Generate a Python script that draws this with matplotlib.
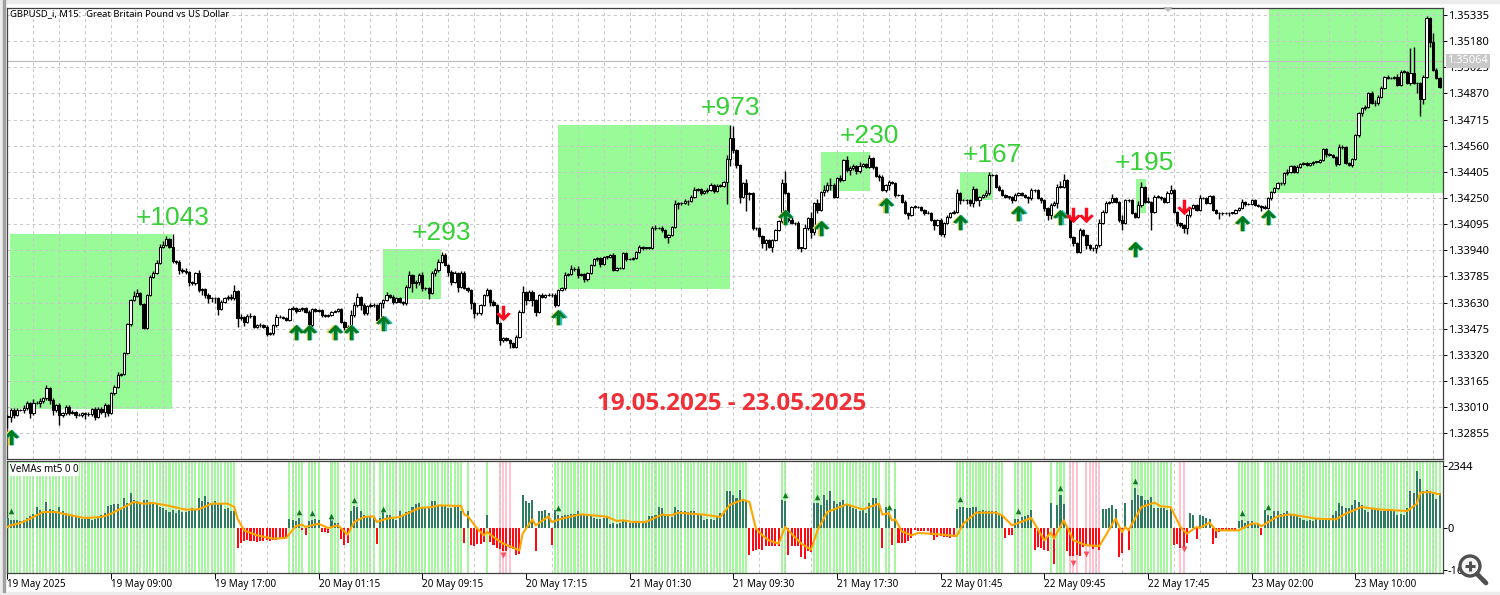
import numpy as np
import matplotlib
matplotlib.use("Agg")
import matplotlib.pyplot as plt
from matplotlib.patches import Rectangle, Circle
from matplotlib.ticker import FixedLocator, FixedFormatter

# prices are points above 1.30000, read bar by bar (bars are 15 min apart)
closes = [
    2953,2992,2963,2992,2992,3002,3032,2973,3036,3032,3048,3062,3121,3052,2992,3022,2963,2973,3012,2977,
    2983,2963,2963,2973,2969,2967,2996,2953,2998,2983,3022,2973,3091,3131,3200,3204,3329,3501,3645,3671,
    3684,3621,3481,3675,3783,3803,3862,3961,3971,4005,3961,3878,3872,3823,3817,3813,3754,3744,3803,3704,
    3708,3675,3655,3655,3655,3591,3635,3655,3665,3655,3698,3536,3546,3516,3550,3550,3487,3497,3497,3487,
    3443,3447,3497,3542,3542,3536,3526,3590,3596,3582,3590,3596,3576,3497,3590,3582,3586,3556,3550,3556,
    3576,3582,3590,3517,3483,3477,3556,3615,3665,3615,3566,3610,3615,3615,3526,3625,3645,3675,3665,3635,
    3655,3635,3625,3724,3793,3744,3754,3793,3714,3714,3685,3803,3823,3872,3912,3853,3813,3754,3803,3724,
    3807,3714,3704,3625,3566,3566,3615,3675,3704,3635,3615,3507,3408,3418,3408,3388,3368,3428,3576,3695,
    3645,3695,3645,3576,3675,3665,3675,3675,3675,3615,3704,3714,3793,3797,3829,3829,3793,3797,3769,3803,
    3852,3886,3892,3856,3902,3902,3912,3823,3833,3833,3922,3886,3888,3892,3927,3961,3955,3955,3955,4070,
    4070,4070,4060,4020,4030,4080,4212,4218,4218,4232,4232,4254,4297,4303,4277,4291,4297,4327,4291,4323,
    4323,4343,4479,4604,4534,4445,4258,4337,4271,4277,4070,4070,4026,3981,4001,3961,4001,4060,4113,4337,
    4277,4119,4099,4099,3955,3955,4070,4129,4050,4218,4178,4287,4297,4327,4327,4258,4366,4356,4475,4416,
    4426,4441,4410,4441,4449,4435,4489,4435,4382,4376,4297,4327,4343,4337,4267,4267,4228,4159,4149,4198,
    4198,4194,4178,4159,4163,4119,4090,4119,4034,4099,4139,4159,4169,4281,4238,4238,4238,4218,4301,4238,
    4258,4267,4277,4386,4386,4317,4297,4267,4258,4258,4238,4267,4277,4267,4258,4248,4297,4297,4248,4238,
    4188,4149,4208,4218,4316,4316,4356,4139,4020,3980,3931,4060,4030,3970,3951,3951,3970,4099,4168,4218,
    4228,4247,4228,4119,4099,4237,4237,4158,4139,4208,4316,4228,4228,4168,4257,4257,4247,4228,4277,4297,
    4168,4099,4089,4069,4148,4188,4208,4178,4247,4247,4218,4263,4178,4158,4158,4158,4158,4162,4162,4178,
    4188,4228,4212,4212,4237,4208,4204,4198,4188,4247,4287,4307,4337,4337,4396,4406,4441,4406,4435,4451,
    4455,4445,4455,4465,4465,4475,4538,4511,4505,4495,4451,4550,4554,4455,4445,4479,4623,4752,4781,4791,
    4870,4815,4811,4851,4900,4965,4959,4959,4965,4920,4999,4999,4930,4989,4930,4930,4835,4969,5315,5177,
    5009,4959,4910,
]
wick_up = [
    10,15,10,12,8,20,15,8,20,12,15,10,20,8,10,8,15,6,12,8,
    8,6,10,8,10,10,6,15,15,10,12,6,8,12,15,10,6,5,6,30,
    25,10,8,8,10,12,18,15,25,20,8,75,6,12,10,15,6,5,10,20,
    10,8,12,10,8,5,10,10,12,15,35,5,15,6,12,15,6,8,10,6,
    8,8,6,20,12,6,8,6,14,8,8,6,10,12,10,8,8,5,6,8,
    6,6,6,5,4,12,30,20,22,6,12,8,14,10,6,8,6,15,8,10,
    8,6,6,10,25,6,8,14,15,6,6,15,12,14,18,10,8,12,14,6,
    10,8,10,6,6,6,8,8,12,8,10,6,6,6,6,6,8,8,8,30,
    6,10,8,8,6,10,8,10,10,14,6,8,20,8,25,10,18,8,8,6,
    8,8,10,10,6,6,6,10,6,8,8,6,6,5,6,10,5,6,5,15,
    20,6,14,6,6,6,25,8,8,10,8,14,18,8,8,6,12,12,6,10,
    10,10,25,80,70,8,6,8,25,10,6,10,6,6,6,6,6,8,6,25,
    70,8,20,6,15,6,25,6,35,10,25,6,30,15,40,10,8,22,8,25,
    12,10,6,25,8,8,18,6,6,8,10,8,14,6,10,8,6,8,6,6,
    10,4,8,6,8,6,6,6,10,6,10,6,10,25,6,6,6,8,18,8,
    6,6,20,20,6,6,8,6,5,6,6,15,6,6,6,6,10,8,6,6,
    8,6,14,12,15,35,35,6,8,6,6,10,6,6,6,6,8,25,10,12,
    6,25,6,6,30,6,6,6,8,25,30,5,25,6,8,8,6,6,15,30,
    5,6,8,6,6,6,6,8,18,6,6,6,5,5,8,6,6,5,5,8,
    6,15,6,10,6,6,5,6,8,6,6,6,8,6,6,15,6,6,8,6,
    6,6,5,5,5,5,6,8,8,8,6,18,8,6,6,6,6,6,10,8,
    10,14,14,10,14,8,12,6,8,18,8,10,6,150,158,6,6,10,14,8,
    50,10,10,
]
wick_down = [
    70,30,20,8,8,15,10,25,8,6,20,15,8,25,30,10,60,10,8,15,
    8,20,8,10,30,10,8,20,10,15,30,15,6,8,8,6,5,6,8,6,
    6,6,6,8,6,6,6,6,5,6,6,15,12,25,10,15,25,8,10,10,
    30,20,25,20,30,35,6,10,8,10,8,50,8,25,6,10,10,8,15,8,
    10,6,8,15,6,6,8,5,6,12,5,8,8,6,15,6,6,12,8,6,
    8,5,6,6,14,8,20,10,12,30,8,10,8,12,6,8,25,8,10,14,
    10,6,8,8,6,50,30,20,15,10,35,6,15,14,8,8,25,20,10,30,
    8,6,12,35,30,12,8,8,6,25,6,6,30,10,6,30,6,6,6,8,
    30,6,35,25,8,8,8,8,15,10,6,6,10,8,6,14,15,6,20,12,
    6,6,8,15,6,12,8,8,8,6,5,8,5,6,6,6,14,6,8,8,
    10,6,10,8,35,6,6,30,10,6,25,8,6,6,8,6,10,8,10,5,
    8,6,130,40,20,15,35,10,100,35,8,8,6,30,40,6,30,6,6,12,
    6,10,6,8,8,25,8,10,35,20,20,6,25,10,30,8,6,12,8,10,
    30,8,15,10,6,8,6,15,6,25,8,12,30,6,10,8,8,6,25,8,
    6,5,6,8,5,6,30,8,10,15,6,6,6,8,25,8,25,15,20,8,
    35,8,10,8,6,8,6,6,10,12,20,6,6,6,8,25,8,10,6,15,
    15,30,25,6,30,8,6,6,6,15,10,10,8,25,10,15,30,10,6,8,
    6,8,10,10,40,6,8,6,6,6,10,5,6,110,8,6,8,6,6,6,
    6,15,10,25,35,8,6,6,5,5,6,6,6,6,30,12,6,14,6,10,
    6,6,8,6,6,8,6,25,6,6,10,6,6,8,10,10,6,6,10,6,
    8,6,6,8,6,10,6,20,6,8,10,6,8,6,6,10,6,10,14,8,
    10,6,14,8,6,5,6,6,6,8,8,6,6,8,6,60,100,30,6,30,
    6,6,10,
]

# indicator histogram, steps of 12.6
hist_steps = [
    30,25,24,23,22,24,30,35,43,62,55,48,78,58,55,50,62,50,45,40,
    38,32,30,28,28,26,25,28,32,38,45,65,70,72,72,60,90,75,105,85,
    80,78,85,85,78,75,72,62,60,55,48,55,45,55,48,48,50,60,55,90,
    80,95,78,75,82,72,72,58,60,50,50,-60,-45,-40,-37,-38,-38,-42,-38,-38,
    -36,-38,-36,-36,-32,-30,-30,28,24,20,30,-5,-22,22,24,26,25,-12,-12,-14,
    28,15,14,-32,-50,-46,52,65,62,50,40,35,32,30,-48,30,55,40,38,30,
    25,52,40,48,52,62,72,75,60,60,60,82,82,70,70,65,60,60,62,62,
    52,-45,52,-52,-55,-48,-48,-42,38,-42,-50,-60,-62,-70,-68,-60,-62,-80,-78,100,
    82,75,85,-68,52,52,55,45,-50,55,38,35,40,40,42,42,50,42,40,40,
    35,30,28,28,30,32,12,14,12,16,20,22,16,18,20,18,18,20,35,36,
    38,62,60,40,35,32,62,55,52,50,48,50,50,42,40,25,28,28,25,32,
    45,50,112,112,98,90,115,80,80,-82,-68,-65,-62,-65,-55,-55,-55,-55,-55,85,
    80,-80,-55,-55,-55,-88,-92,-70,-72,75,75,70,98,85,110,82,72,78,85,72,
    68,60,58,50,55,45,75,90,90,72,-60,62,55,-50,58,-45,-45,-45,-40,-30,
    -5,-8,-8,-10,-10,-22,-35,-28,-25,-28,-28,-30,-28,58,62,62,60,60,62,62,
    52,55,52,50,50,50,42,35,-30,-22,-22,28,28,32,35,40,55,-65,-58,-60,
    -65,-68,75,-108,70,98,72,-70,-85,-85,-82,-85,-58,-50,-55,-62,-58,-65,58,58,
    60,70,58,-88,-75,75,-65,85,120,100,95,85,85,92,60,60,60,60,55,60,
    -50,-48,-60,-65,-45,45,38,-32,38,35,30,28,-48,-30,-12,-6,-6,-8,-6,-6,
    20,25,15,20,22,15,12,-20,55,40,35,52,50,42,45,52,38,38,35,30,
    25,22,25,22,28,25,25,25,25,38,50,75,65,60,60,68,85,78,70,55,
    48,58,60,58,50,50,55,50,52,40,42,38,60,112,105,172,148,112,115,110,
    105,88,105,
]

# orange line, read at its turning points
ma_bars = [0,1,4,7,11,15,18,24,29,32,37,39,42,45,49,55,59,63,68,70,71,73,77,82,86,89,91,92,96,99,102,105,107,110,113,114,117,
           121,124,127,131,133,140,141,142,145,147,148,150,153,158,159,162,163,167,168,171,177,185,188,190,193,197,202,205,207,215,220,223,227,229,
           231,233,235,238,240,242,245,248,250,253,259,264,269,270,272,273,274,276,279,281,285,293,295,299,305,307,310,316,320,322,323,326,329,333,337,
           342,344,345,346,350,354,356,359,362,364,367,368,371,373,380,384,386,387,392,396,404,410,413,418,423,432,435,436,439,442]
ma_steps = [3,8,15,28,48,48,41,30,33,43,68,78,73,75,68,55,56,73,73,63,28,-7,-22,-32,-30,6,10,3,13,0,8,-20,18,33,35,18,28,
            33,46,60,63,68,66,40,36,-2,-22,-12,-27,-47,-67,-17,26,8,35,18,28,41,34,21,23,18,18,40,38,46,40,33,70,85,78,
            -2,-22,-37,-47,3,-17,-47,-65,-7,48,71,56,73,40,45,23,26,-10,-22,-15,-17,-24,13,46,46,38,8,30,-37,-14,-32,23,-37,-52,-54,
            28,-12,3,-7,63,76,65,63,3,-17,3,0,16,-7,-7,13,13,5,35,41,28,26,43,63,56,51,73,106,108,101]

green_runs = [(0,70),(87,91),(93,96),(100,102),(106,113),(115,140),(142,142),(148,148),(169,228),(239,240),(249,269),
              (271,272),(274,274),(293,307),(311,316),(322,322),(324,326),(347,359),(380,386),(388,442)]
pink_runs = [(152,155),(328,330),(333,337),(362,363)]

# signals in the price panel: bar, price points
up_bars = [1,89,93,101,106,116,170,240,251,271,294,312,325,348,381,389]
up_points = [2833,3455,3455,3455,3455,3509,3544,4137,4072,4208,4107,4161,4137,3947,4102,4137]
down_bars = [153,329,333,363]
down_points = [3568,4149,4149,4196]

# small signals in the indicator panel: bar, steps
sub_up_bars = [1,90,94,100,107,116,170,240,250,272,294,312,325,348,381,389]
sub_up_steps = [50,48,46,36,85,58,60,100,93,63,86,50,121,141,46,63]
sub_down_bars = [153,329,333,363]
sub_down_steps = [-80,-104,-78,-62]

# green boxes: first bar, last bar, low, high
box_left = [0.8,115.9,169.9,251,294.1,348.3,389.4]
box_right = [50.8,133.8,223,266.2,304.2,351.4,443.1]
box_low = [2999,3651,3710,4293,4238,4161,4279]
box_high = [4036,3947,4683,4520,4406,4362,5380]

gain_labels = ["+1043","+293","+973","+230","+167","+195"]
gain_bars = [51,134,223,266,304,351]
gain_points = [4131,4042,4783,4617,4505,4457]

price_ticks = [1.32855,1.33010,1.33165,1.33320,1.33475,1.33630,1.33785,1.33940,1.34095,1.34250,1.34405,1.34560,1.34715,1.34870,1.35025,1.35180,1.35335]
last_price = 1.35064
time_labels = ["19 May 2025","19 May 09:00","19 May 17:00","20 May 01:15","20 May 09:15","20 May 17:15","21 May 01:30",
               "21 May 09:30","21 May 17:30","22 May 01:45","22 May 09:45","22 May 17:45","23 May 02:00","23 May 10:00"]

W, H = 1500, 595
plt.rcParams['font.family'] = ['Noto Sans', 'DejaVu Sans']

pt = 1e-5
c = 1.3 + np.array(closes) * pt
o = np.r_[c[0], c[:-1]]
hi = np.maximum(o, c) + np.array(wick_up) * pt
lo = np.minimum(o, c) - np.array(wick_down) * pt
hist = np.array(hist_steps) * 12.6
bars = np.arange(len(c))


def px_axes(left, top, right, bottom):
    return fig.add_axes([left / W, 1 - bottom / H, (right - left) / W, (bottom - top) / H])


fig = plt.figure(figsize=(W / 100, H / 100), dpi=100, facecolor='white')

# window chrome behind the panels
chrome = fig.add_axes([0, 0, 1, 1], zorder=0)
chrome.set_xlim(0, W)
chrome.set_ylim(H, 0)
chrome.axis('off')
chrome.add_patch(Rectangle((0, 0), W, 3, color='#ECECEC'))
chrome.add_patch(Rectangle((0, 0), 3, H, color='#ECECEC'))
chrome.add_patch(Rectangle((0, 592), W, 3, color='#ECECEC'))
chrome.add_patch(Rectangle((3, 0), 2, 592, color='#A0A0A0'))

ax = px_axes(7, 8, 1443, 459)
sub = px_axes(7, 461, 1443, 573)
ax.set_zorder(2)
sub.set_zorder(2)
xlim = (-0.154, -0.154 + 1436 / 3.24)
grid_bars = np.arange(0, len(c) + 1, 8)

# price panel
ax.set_xlim(xlim)
ax.set_ylim(1.3 + 2702 * pt, 1.3 + 5376.5 * pt)
ax.set_xticks(grid_bars)
ax.set_yticks(price_ticks)
ax.grid(True, color='#C8C8C8', linestyle=(0, (3, 3)), linewidth=0.75)
for a, b, d, e in zip(box_left, box_right, box_low, box_high):
    ax.add_patch(Rectangle((a, 1.3 + d * pt), b - a, (e - d) * pt, color='#98FB98', linewidth=0, zorder=1))
ax.axhline(last_price, color='#C0C0C0', linewidth=0.9, zorder=1.6)

ax.vlines(bars, lo, hi, color='black', linewidth=1.0, zorder=3)
up = c >= o
ax.bar(bars[up], np.maximum(c[up] - o[up], 2 * pt), bottom=o[up], width=0.7, facecolor='white', edgecolor='black', linewidth=0.75, zorder=4)
ax.bar(bars[~up], (o - c)[~up], bottom=c[~up], width=0.7, facecolor='black', edgecolor='black', linewidth=0.75, zorder=4)

arrow = [(0, 1), (0.95, 0.05), (0.6, -0.15), (0.22, 0.25), (0.22, -1), (-0.22, -1), (-0.22, 0.25), (-0.6, -0.15), (-0.95, 0.05)]
arrow_down = [(x, -y) for x, y in arrow]
ub = np.array(up_bars)
up_y = 1.3 + np.array(up_points) * pt
ax.scatter(ub - 0.4, up_y, marker=arrow, s=125, color='#F0D060', linewidths=0, zorder=5)
ax.scatter(ub + 0.4, up_y, marker=arrow, s=125, color='#30C0C8', linewidths=0, zorder=5)
ax.scatter(ub, up_y, marker=arrow, s=125, color='#007A1E', linewidths=0, zorder=6)
ax.scatter(down_bars, 1.3 + np.array(down_points) * pt, marker=arrow_down, s=125, color='#FF0A1E', linewidths=0, zorder=6)

for s, b, p in zip(gain_labels, gain_bars, gain_points):
    ax.text(b, 1.3 + p * pt, s, color='#35D035', fontsize=19, family='Liberation Sans', ha='center', va='center', zorder=7)
ax.text(223.6, 1.3 + 3028 * pt, "19.05.2025 - 23.05.2025", color='#F03038', fontsize=17.5, family='Open Sans',
        fontweight='bold', ha='center', va='center', zorder=7)
ax.text(3 / 1436, 1 - 1 / 451, "GBPUSD_i, M15:  Great Britain Pound vs US Dollar", transform=ax.transAxes,
        fontsize=6.8, ha='left', va='top', zorder=7)

ax.yaxis.tick_right()
ax.set_yticklabels([f"{v:.5f}" for v in price_ticks], fontsize=8)
ax.tick_params(axis='x', length=0, labelbottom=False)
ax.tick_params(axis='y', length=3, width=0.7, pad=0.5)
for sp in ax.spines.values():
    sp.set_color('#404040')
    sp.set_linewidth(0.9)
ax.annotate(f"{last_price:.5f}", xy=(1, last_price), xycoords=('axes fraction', 'data'), xytext=(3, 0),
            textcoords='offset points', fontsize=8, color='white', va='center', ha='left', zorder=8,
            annotation_clip=False, bbox=dict(boxstyle='square,pad=0.15', facecolor='#C8C8C8', edgecolor='none'))

# indicator panel
sub.set_xlim(xlim)
sub.set_ylim(-1701, 2533)
sub.set_xticks(grid_bars, minor=True)
sub.grid(True, which='minor', axis='x', color='#C8C8C8', linestyle=(0, (3, 3)), linewidth=0.75)
for a, b in green_runs:
    sub.bar(np.arange(a, b + 1), 4234, bottom=-1701, width=0.62, color='#A6F7A0', linewidth=0, zorder=1)
for a, b in pink_runs:
    sub.bar(np.arange(a, b + 1), 4234, bottom=-1701, width=0.62, color='#FFC4D0', linewidth=0, zorder=1)
pos = hist > 0
sub.bar(bars[pos], hist[pos], width=0.62, color='#2E7D5E', linewidth=0, zorder=3)
sub.bar(bars[~pos], hist[~pos], width=0.62, color='#FF0A14', linewidth=0, zorder=3)
sub.plot(ma_bars, np.array(ma_steps) * 12.6, color='#FFA500', linewidth=1.5, zorder=4)
sub.scatter(np.array(sub_up_bars) + 0.5, np.array(sub_up_steps) * 12.6 - 20, marker='^', s=18, color='#C8ECD0', linewidths=0, zorder=5)
sub.scatter(sub_up_bars, np.array(sub_up_steps) * 12.6, marker='^', s=16, color='#107A20', linewidths=0, zorder=6)
sub.scatter(sub_down_bars, np.array(sub_down_steps) * 12.6, marker='v', s=18, color='#FF5060', linewidths=0, zorder=6)
sub.text(2.5 / 1436, 1 - 3 / 112, "VeMAs mt5 0 0", transform=sub.transAxes, fontsize=7.1, ha='left', va='top', zorder=7,
         bbox=dict(boxstyle='square,pad=0.1', facecolor='white', edgecolor='none'))

sub.yaxis.tick_right()
sub.yaxis.set_major_locator(FixedLocator([-1600, 0, 2344]))
sub.yaxis.set_major_formatter(FixedFormatter(["-1600", "0", "2344"]))
sub.xaxis.set_major_locator(FixedLocator(np.arange(len(time_labels)) * 32))
sub.xaxis.set_major_formatter(FixedFormatter(time_labels))
sub.tick_params(axis='x', which='major', length=4, width=0.7, pad=0.5, labelsize=7.1)
sub.tick_params(axis='x', which='minor', length=0)
sub.tick_params(axis='y', length=3, width=0.7, pad=0.5, labelsize=8)
for lab in sub.get_xticklabels():
    lab.set_ha('left')
for sp in sub.spines.values():
    sp.set_color('#404040')
    sp.set_linewidth(0.9)

# small shift marker and magnifier from the terminal window
over = fig.add_axes([0, 0, 1, 1], zorder=5)
over.set_xlim(0, W)
over.set_ylim(H, 0)
over.axis('off')
over.patch.set_alpha(0)
over.fill([1163, 1173, 1168], [7, 7, 12], color='#B8B8B8', linewidth=0)
over.add_patch(Circle((1470, 566), 10, facecolor='#F4F4F4', edgecolor='#505050', linewidth=2.4))
over.plot([1465, 1475], [566, 566], color='#505050', linewidth=2.2, solid_capstyle='butt')
over.plot([1470, 1470], [561, 571], color='#505050', linewidth=2.2, solid_capstyle='butt')
over.plot([1477, 1486], [574, 583], color='#505050', linewidth=3.4, solid_capstyle='round')

fig.savefig('out.png', dpi=100, facecolor=fig.get_facecolor())
